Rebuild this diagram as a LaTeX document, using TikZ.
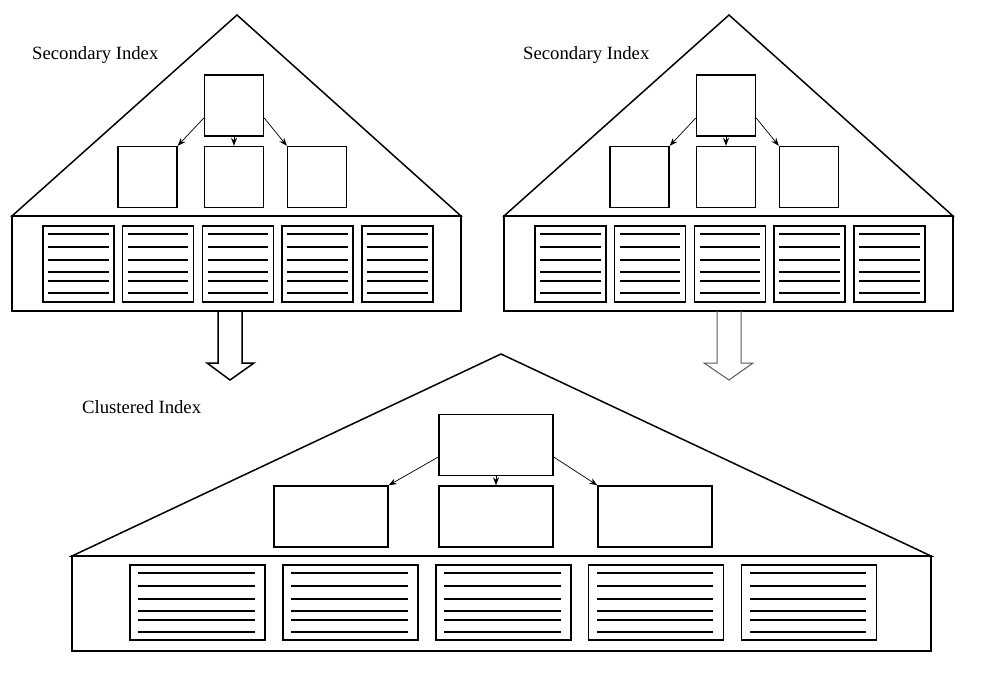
\documentclass[tikz,border=0pt]{standalone}
\usepackage{fontspec}
\setmainfont{Liberation Serif}
\usetikzlibrary{arrows.meta,calc}

\begin{document}
\begin{tikzpicture}[
  x = 1pt, y = -1pt,
  font = \fontsize{18.7}{22}\selectfont,
  house/.style   = {line width=1.5pt, line join=miter},
  nodebox/.style = {draw, line width=1.4pt, inner sep=0pt,
                    minimum width=59pt, minimum height=61pt},
  widebox/.style = {nodebox, minimum width=114pt},
  leafbox/.style = {draw, line width=1.4pt, inner sep=0pt,
                    minimum width=71pt, minimum height=76pt},
  wideleaf/.style= {leafbox, minimum width=135pt, minimum height=75pt},
  row/.style     = {line width=1.5pt},
  link/.style    = {-{Stealth[length=8pt,width=6pt]}, line width=0.7pt},
  fatarrow/.style= {line width=1.5pt, line join=miter},
  label/.style   = {anchor=base west, inner sep=0pt},
]
\useasboundingbox (0,0) rectangle (996,679);

% Two secondary indexes (left at 0, right shifted by 492)
\foreach \s/\n in {0/l, 492/r} {
  \begin{scope}[xshift=\s pt]
    \draw[house] (12,216) -- (237,15) -- (461,216) -- cycle;
    \draw[house] (12,216) rectangle (461,311);
    \node[nodebox] (\n top) at (234,105.5) {};
    \node[nodebox] (\n a) at (147.5,177) {};
    \node[nodebox] (\n b) at (234,177) {};
    \node[nodebox] (\n c) at (317,177) {};
    \foreach \i in {0,...,4} {
      \node[leafbox] (\n leaf\i) at (78.5+79.7*\i,264) {};
      \foreach \dy in {-30,-17,-4,8,17,29}
        \draw[row] ($(\n leaf\i.west)+(6,\dy)$) -- ($(\n leaf\i.east)+(-6,\dy)$);
    }
  \end{scope}
  \draw[link] ([yshift=-12.5pt]\n top.west) -- (\n a.north east);
  \draw[link] (\n top.south) -- (\n b.north);
  \draw[link] ([yshift=-12.5pt]\n top.east) -- (\n c.north west);
}

\node[label] (sec1) at (32,60) {Secondary Index};
\node[label] (sec2) at (523,60) {Secondary Index};

% Hollow arrows down to the clustered index
\draw[fatarrow] (218,311) -- (218,363) -- (207,363) -- (230,380)
  -- (254,363) -- (242,363) -- (242,311);
\draw[fatarrow, line width=1pt, draw=black!65] (717,311) -- (717,363)
  -- (704,363) -- (729,380) -- (753,363) -- (741,363) -- (741,311);

% Clustered index
\node[label] (clu) at (82,413) {Clustered Index};
\draw[house] (72,556) -- (501,354) -- (931,556) -- cycle;
\draw[house] (72,556) rectangle (931,651);
\node[widebox] (ctop) at (496,445) {};
\node[widebox] (ca) at (331,516.5) {};
\node[widebox] (cb) at (496,516.5) {};
\node[widebox] (cc) at (655,516.5) {};
\draw[link] ([yshift=-12pt]ctop.west) -- (ca.north east);
\draw[link] (ctop.south) -- (cb.north);
\draw[link] ([yshift=-12pt]ctop.east) -- (cc.north west);
\foreach \i in {0,...,4} {
  \node[wideleaf] (cleaf\i) at (197.5+152.9*\i,602.5) {};
  \foreach \dy in {-29.5,-16.5,-3.5,8.5,17.5,29.5}
    \draw[row] ($(cleaf\i.west)+(9,\dy)$) -- ($(cleaf\i.east)+(-11,\dy)$);
}

\end{tikzpicture}
\end{document}
